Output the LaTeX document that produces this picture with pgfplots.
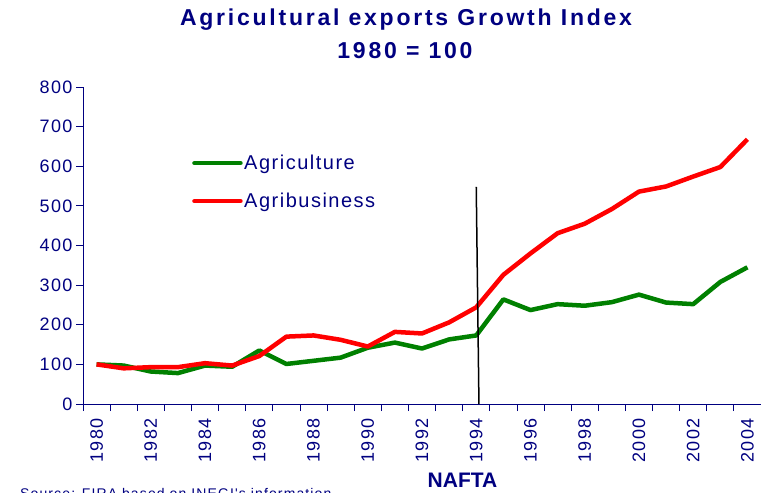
\documentclass[border=0pt]{standalone}
\usepackage{fontspec}
\setmainfont{Liberation Sans}
\newfontfamily\ttlfont[LetterSpace=12]{Liberation Sans}
\newfontfamily\tickfont[LetterSpace=8]{Liberation Sans}
\newfontfamily\legfont[LetterSpace=7.5]{Liberation Sans}
\newfontfamily\srcfont[LetterSpace=8]{Liberation Sans}
\usepackage{pgfplots}
\pgfplotsset{compat=1.18}
\usepackage{pgfplotstable}
\definecolor{navy}{RGB}{0,0,128}
\definecolor{agrgreen}{RGB}{0,128,0}
\definecolor{agrred}{RGB}{255,0,0}

\pgfplotstableread{
year agri agribus
1980 100 100
1981 97 90
1982 82 93
1983 78 93
1984 97 103
1985 94 97
1986 135 121
1987 101 170
1988 109 173
1989 117 162
1990 142 145
1991 155 182
1992 140 178
1993 163 206
1994 173 244
1995 264 326
1996 237 380
1997 252 431
1998 248 455
1999 257 492
2000 276 536
2001 256 549
2002 252 574
2003 308 598
2004 345 668
}\datatable

\begin{document}
\begin{tikzpicture}
\begin{axis}[
  at={(83bp,89bp)}, anchor=south west,
  scale only axis, width=678bp, height=317bp,
  xmin=1979.5, xmax=2004.5, ymin=0, ymax=800,
  axis x line=bottom, axis y line=left,
  axis line style={-, navy, line width=1bp},
  xtick={1980,1982,1984,1986,1988,1990,1992,1994,1996,1998,2000,2002,2004},
  xticklabels={1980,1982,1984,1986,1988,1990,1992,1994,1996,1998,2000,2002,2004},
  minor xtick={1979.5,1980.5,...,2004.5},
  major x tick style={draw=none},
  minor x tick style={navy, line width=0.8bp},
  ytick={0,100,200,300,400,500,600,700,800},
  yticklabels={0,100,200,300,400,500,600,700,800},
  y tick style={navy, line width=0.8bp},
  tick align=outside, major tick length=7bp, minor tick length=7bp,
  xticklabel style={rotate=90, anchor=east, font=\tickfont\fontsize{18bp}{20bp}\selectfont, text=navy},
  yticklabel style={font=\tickfont\fontsize{18bp}{20bp}\selectfont, text=navy},
  xticklabel shift=4bp,
  legend style={at={(0.1608,0.7905)}, anchor=north west, draw=none, fill=none,
    font=\legfont\fontsize{20bp}{22bp}\selectfont, text=navy, row sep=19bp, inner sep=0pt,
    nodes={inner sep=1.5bp}},
  legend image code/.code={\draw[#1, line cap=round] (0bp,0bp) -- (46bp,0bp);},
  legend cell align=left,
  clip=false,
]
\addplot[agrgreen, line width=4.5bp, line join=round] table[x=year, y=agri] {\datatable};
\addlegendentry{Agriculture}
\addplot[agrred, line width=4.5bp, line join=round] table[x=year, y=agribus] {\datatable};
\addlegendentry{Agribusiness}
\addplot[black, line width=1.5bp, forget plot] coordinates {(1994,548) (1994.1,0)};
\end{axis}
\node[font=\ttlfont\bfseries\fontsize{23bp}{27bp}\selectfont, text=navy] at (406bp,473bp) {Agricultural exports Growth Index};
\node[font=\ttlfont\bfseries\fontsize{23bp}{27bp}\selectfont, text=navy] at (405bp,442bp) {1980 = 100};
\node[font=\bfseries\fontsize{21bp}{24bp}\selectfont, text=navy, anchor=base, inner sep=0pt] at (462.5bp,5.7bp) {NAFTA};
\node[font=\srcfont\fontsize{14bp}{16bp}\selectfont, text=navy, anchor=base west, inner sep=0pt] at (20bp,-5.5bp) {Source: FIRA based on INEGI's information};
\pgfresetboundingbox
\useasboundingbox (0,0) rectangle (761bp,493bp);
\end{tikzpicture}
\end{document}
